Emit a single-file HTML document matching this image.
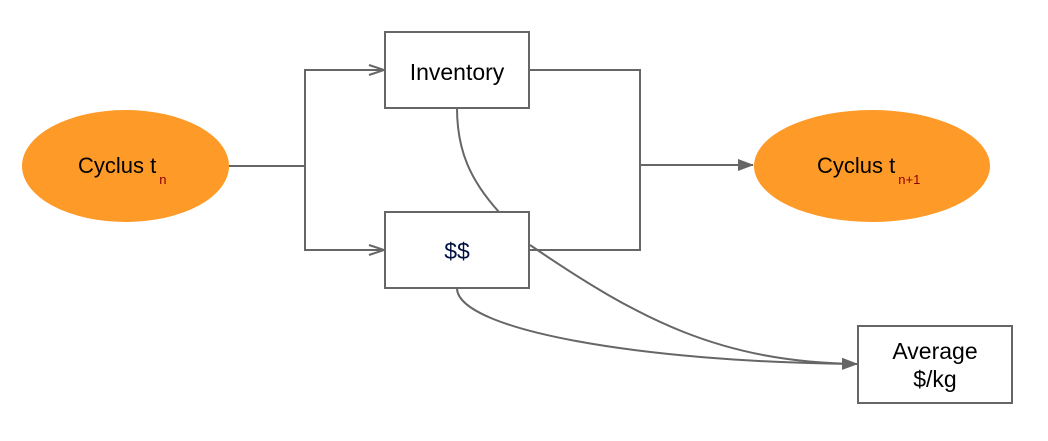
<!DOCTYPE html>
<html><head><meta charset="utf-8"><style>
html,body{margin:0;padding:0;background:#fff;}
svg{display:block;font-family:"Liberation Sans",Arial,sans-serif;}
</style></head><body>
<svg width="1048" height="441" viewBox="0 0 1048 441" xmlns="http://www.w3.org/2000/svg">
<defs>
<marker id="tri" markerWidth="16" markerHeight="12" refX="15" refY="6" orient="auto" markerUnits="userSpaceOnUse">
<path d="M0,0 L16,6 L0,12 z" fill="#666"/>
</marker>
</defs>
<g stroke="#666" stroke-width="2" fill="none">
<polyline points="229,166 305,166"/>
<polyline points="384,70 305,70 305,250 384,250"/>
<path d="M369,65 L384,70 L369,75"/>
<path d="M369,245 L384,250 L369,255"/>
<polyline points="529,70 640,70 640,250 529,250"/>
<line x1="640" y1="165" x2="753" y2="165" marker-end="url(#tri)"/>
<path d="M457,108 C457,150 470,180 499,212"/>
<path d="M530,245 C640,320 720,362 857,364" marker-end="url(#tri)"/>
<path d="M457,289 C460,330 640,362 857,364" marker-end="url(#tri)"/>
</g>
<ellipse cx="125.5" cy="166" rx="103.5" ry="56" fill="#fe9a27"/>
<ellipse cx="872" cy="166" rx="118" ry="56" fill="#fe9a27"/>
<g fill="#fff" stroke="#666" stroke-width="2">
<rect x="385" y="32" width="144" height="76"/>
<rect x="385" y="212" width="144" height="76"/>
<rect x="858" y="326" width="154" height="77"/>
</g>
<g font-size="23" fill="#000" text-anchor="middle">
<text x="457" y="80">Inventory</text>
<text x="457" y="259" fill="#001040">$$</text>
<text x="935" y="359">Average</text>
<text x="935" y="387">$/kg</text>
</g>
<text x="78" y="173" font-size="22">Cyclus t<tspan font-size="13" fill="#8b0000" dy="11" dx="3">n</tspan></text>
<text x="817" y="173" font-size="22">Cyclus t<tspan font-size="13" fill="#8b0000" dy="11" dx="3">n+1</tspan></text>
</svg>
</body></html>
